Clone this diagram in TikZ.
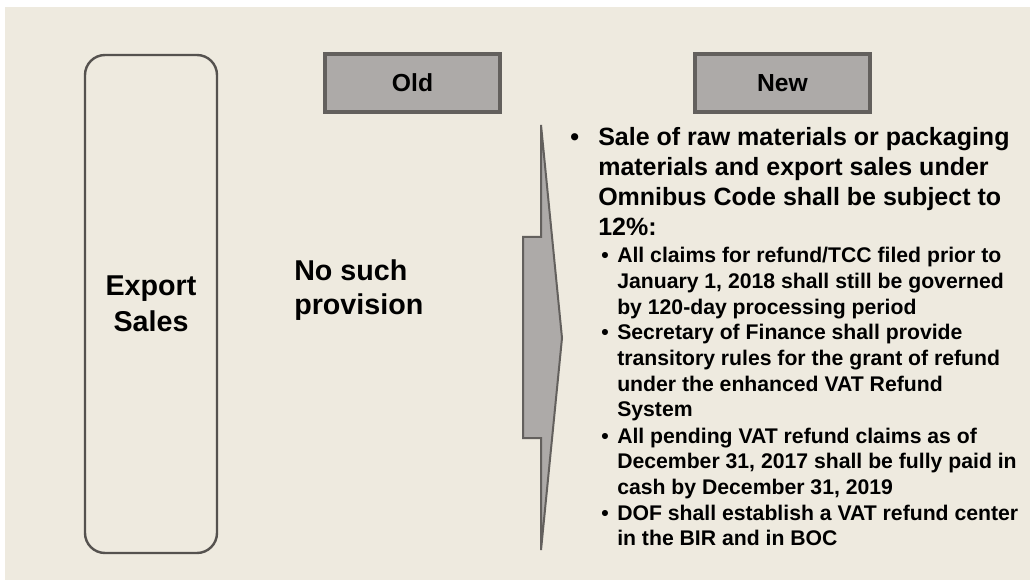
\documentclass[tikz,border=0pt]{standalone}
\usepackage{fontspec}
\setmainfont{Liberation Sans}
\usetikzlibrary{positioning}
\definecolor{slidebg}{HTML}{EEEADF}
\definecolor{tabfill}{HTML}{ADAAA8}
\definecolor{tabline}{HTML}{63605D}
\definecolor{rowline}{HTML}{55524F}
\tikzset{
tabbox/.style={rectangle,draw=tabline,line width=3pt,fill=tabfill,inner sep=0pt,
  minimum width=131pt,minimum height=43.5pt,font=\bfseries\fontsize{18.5}{21}\selectfont},
rowbox/.style={rectangle,rounded corners=15pt,draw=rowline,line width=1.8pt,
  minimum width=99pt,minimum height=373.5pt,align=center,font=\bfseries\fontsize{21.5}{27}\selectfont},
oldtext/.style={anchor=base west,align=left,inner sep=0pt,font=\bfseries\fontsize{21.5}{25.5}\selectfont},
maintext/.style={anchor=base west,align=left,inner sep=0pt,font=\bfseries\fontsize{18.75}{22.5}\selectfont},
subtext/.style={anchor=base west,align=left,inner sep=0pt,font=\bfseries\fontsize{15.9}{19.2}\selectfont},
shiftarr/.style={draw=tabline,line width=1.5pt,fill=tabfill}
}
\begin{document}
\begin{tikzpicture}[x=0.75pt,y=-0.75pt]
\fill[white] (0,0) rectangle (1030,580);
\fill[slidebg] (5,7) rectangle (1030,580);
\useasboundingbox (0,0) rectangle (1030,580);
% left column and headers (multi-line text nodes sit on their last line)
\node[rowbox] (exp) at (151,304) {Export\\Sales};
\node[tabbox] (old) at (412.5,83) {Old};
\node[tabbox] (new) at (782.5,83) {New};
\node[oldtext] (none) at (294,315) {No such\\provision};
% arrow from old to new
\draw[shiftarr] (541,125) -- (562,338) -- (541,550) -- (541,438) -- (523,438) -- (523,237) -- (541,237) -- cycle;
% new rules
\node[maintext] (dot0) at (570,146) {\textbullet};
\node[maintext] (main) at (598,236) {Sale of raw materials or packaging\\materials and export sales under\\Omnibus Code shall be subject to\\12\%:};
\foreach \n/\y in {1/263,2/340,3/443,4/520} \node[subtext] (dot\n) at (601,\y) {\textbullet};
\node[subtext] (sub1) at (617,314.2) {All claims for refund/TCC filed prior to\\January 1, 2018 shall still be governed\\by 120-day processing period};
\node[subtext] (sub2) at (617,416.8) {Secretary of Finance shall provide\\transitory rules for the grant of refund\\under the enhanced VAT Refund\\System};
\node[subtext] (sub3) at (617,494.2) {All pending VAT refund claims as of\\December 31, 2017 shall be fully paid in\\cash by December 31, 2019};
\node[subtext] (sub4) at (617,545.6) {DOF shall establish a VAT refund center\\in the BIR and in BOC};
\end{tikzpicture}
\end{document}
